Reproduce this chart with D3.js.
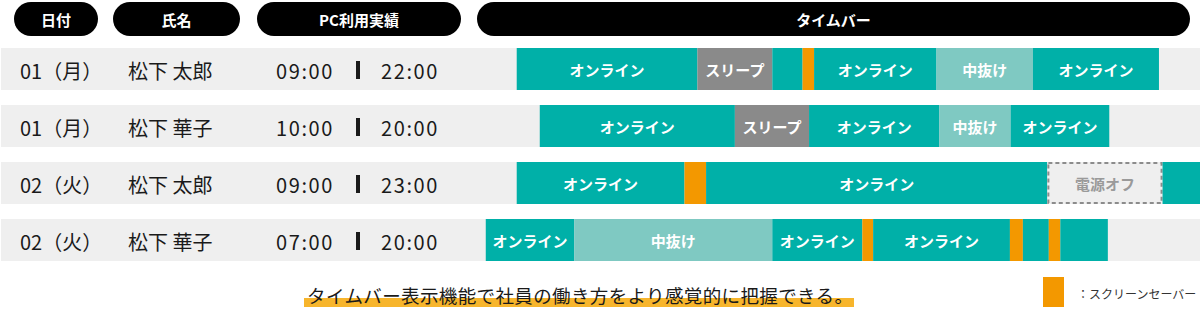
<!DOCTYPE html>
<html>
<head>
<meta charset="utf-8">
<script src="https://cdn.jsdelivr.net/npm/d3@7"></script>
<style>
    html, body { margin: 0; padding: 0; background: #fff; }
    svg { display: block; font-family: "Noto Sans CJK JP", "Noto Sans", sans-serif; }
</style>
</head>
<body>
<svg id="chart" width="1200" height="327"></svg>
<script>

// --- data ---
var headers = ['日付', '氏名', 'PC利用実績', 'タイムバー'];
var dates = ['01（月）', '01（月）', '02（火）', '02（火）'];
var names = ['松下 太郎', '松下 華子', '松下 太郎', '松下 華子'];
var startTimes = ['09:00', '10:00', '09:00', '07:00'];
var endTimes = ['22:00', '20:00', '23:00', '20:00'];

// timebar segments per row: [state, start, end] on a 0-100 scale of the timebar column
var segments = [
    [['online', 5.1, 30.2], ['sleep', 30.2, 40.6], ['online', 40.6, 44.8], ['saver', 44.8, 46.4],
     ['online', 46.4, 63.4], ['break', 63.4, 76.8], ['online', 76.8, 94.3]],
    [['online', 8.3, 35.4], ['sleep', 35.4, 45.7], ['online', 45.7, 63.8], ['break', 63.8, 73.7],
     ['online', 73.7, 87.4]],
    [['online', 5.1, 28.4], ['saver', 28.4, 31.4], ['online', 31.4, 78.8], ['off', 78.8, 94.8],
     ['online', 94.8, 100]],
    [['online', 0.8, 13.1], ['break', 13.1, 40.6], ['online', 40.6, 53.1], ['saver', 53.1, 54.6],
     ['online', 54.6, 73.6], ['saver', 73.6, 75.4], ['online', 75.4, 79.0], ['saver', 79.0, 80.6],
     ['online', 80.6, 87.2]]
];

var stateNames = ['online', 'sleep', 'break', 'saver', 'off'];
var stateLabels = ['オンライン', 'スリープ', '中抜け', '', '電源オフ'];
var caption = 'タイムバー表示機能で社員の働き方をより感覚的に把握できる。';
var legendLabel = '：スクリーンセーバー';

// --- styles ---
var stateFill = d3.scaleOrdinal()
    .domain(stateNames)
    .range(['#00b0a8', '#8a8a8a', '#7fc9c2', '#f39800', '#efefef']);
var stateText = d3.scaleOrdinal()
    .domain(stateNames)
    .range(['#fff', '#fff', '#fff', '#fff', '#9a9a9a']);
var labelOf = d3.scaleOrdinal().domain(stateNames).range(stateLabels);

var rowFill = '#efefef',
    textColor = '#1a1a1a',
    headerFill = '#000',
    highlight = '#f7b52c';

// header pill extents
var columns = [[14, 98], [113, 240], [257, 461], [477, 1190]];

var svg = d3.select('#chart');

var y = d3.scaleBand()
    .domain(d3.range(dates.length))
    .range([48, 261])
    .paddingInner(15 / 57)
    .paddingOuter(0);

var x = d3.scaleLinear()
    .domain([0, 100])
    .range([480, 1200]);

// header pills
var head = svg.append('g').attr('class', 'header')
    .selectAll('g')
    .data(headers)
    .join('g');

head.append('rect')
    .attr('x', function(d, i) { return columns[i][0]; })
    .attr('y', 2)
    .attr('width', function(d, i) { return columns[i][1] - columns[i][0]; })
    .attr('height', 34)
    .attr('rx', 17)
    .attr('ry', 17)
    .attr('fill', headerFill);

head.append('text')
    .attr('x', function(d, i) { return (columns[i][0] + columns[i][1]) / 2; })
    .attr('y', 19)
    .attr('text-anchor', 'middle')
    .attr('dominant-baseline', 'central')
    .attr('fill', '#fff')
    .attr('font-size', 15)
    .attr('font-weight', 'bold')
    .text(function(d) { return d; });

// rows
var rows = svg.append('g').attr('class', 'rows')
    .selectAll('g')
    .data(d3.range(dates.length))
    .join('g')
    .attr('transform', function(i) { return 'translate(0,' + y(i) + ')'; });

rows.append('rect')
    .attr('x', 1)
    .attr('width', 1199)
    .attr('height', y.bandwidth())
    .attr('fill', rowFill);

var mid = y.bandwidth() / 2 + 1;

function rowText(xPos, values, spacing) {
    rows.append('text')
        .attr('x', xPos)
        .attr('y', mid)
        .attr('dominant-baseline', 'central')
        .attr('fill', textColor)
        .attr('font-size', 20)
        .attr('letter-spacing', spacing || 0)
        .text(function(i) { return values[i]; });
}

rowText(20, dates);
rowText(128, names);
rowText(276, startTimes, 1.6);
rowText(381, endTimes, 1.6);

rows.append('rect')
    .attr('x', 356)
    .attr('y', mid - 9)
    .attr('width', 4)
    .attr('height', 18)
    .attr('fill', textColor);

// timebar segments
var seg = rows.selectAll('g.seg')
    .data(function(i) { return segments[i]; })
    .join('g')
    .attr('class', 'seg');

seg.append('rect')
    .attr('x', function(d) { return x(d[1]); })
    .attr('width', function(d) { return x(d[2]) - x(d[1]); })
    .attr('height', y.bandwidth())
    .attr('fill', function(d) { return stateFill(d[0]); });

seg.filter(function(d) { return d[0] === 'off'; })
    .append('rect')
    .attr('x', function(d) { return x(d[1]) + 1; })
    .attr('y', 1)
    .attr('width', function(d) { return x(d[2]) - x(d[1]) - 2; })
    .attr('height', y.bandwidth() - 2)
    .attr('fill', 'none')
    .attr('stroke', '#8c8c8c')
    .attr('stroke-width', 2)
    .attr('stroke-dasharray', '4,3');

seg.filter(function(d) { return x(d[2]) - x(d[1]) > 50 && labelOf(d[0]) !== ''; })
    .append('text')
    .attr('x', function(d) { return (x(d[1]) + x(d[2])) / 2; })
    .attr('y', y.bandwidth() / 2)
    .attr('text-anchor', 'middle')
    .attr('dominant-baseline', 'central')
    .attr('fill', function(d) { return stateText(d[0]); })
    .attr('font-size', 15)
    .attr('font-weight', 'bold')
    .text(function(d) { return labelOf(d[0]); });

// caption with highlighter underline
var cap = svg.append('g').attr('class', 'caption');

cap.append('rect')
    .attr('x', 304)
    .attr('y', 298)
    .attr('width', 550)
    .attr('height', 9)
    .attr('fill', highlight);

cap.append('text')
    .attr('x', 307)
    .attr('y', 295)
    .attr('dominant-baseline', 'central')
    .attr('fill', textColor)
    .attr('font-size', 18.5)
    .attr('textLength', 546)
    .text(caption);

// legend
var legend = svg.append('g').attr('class', 'legend');

legend.append('rect')
    .attr('x', 1043)
    .attr('y', 277)
    .attr('width', 21)
    .attr('height', 30)
    .attr('fill', stateFill('saver'));

legend.append('text')
    .attr('x', 1077)
    .attr('y', 293)
    .attr('dominant-baseline', 'central')
    .attr('fill', '#333')
    .attr('font-size', 12)
    .text(legendLabel);

</script>
</body>
</html>
